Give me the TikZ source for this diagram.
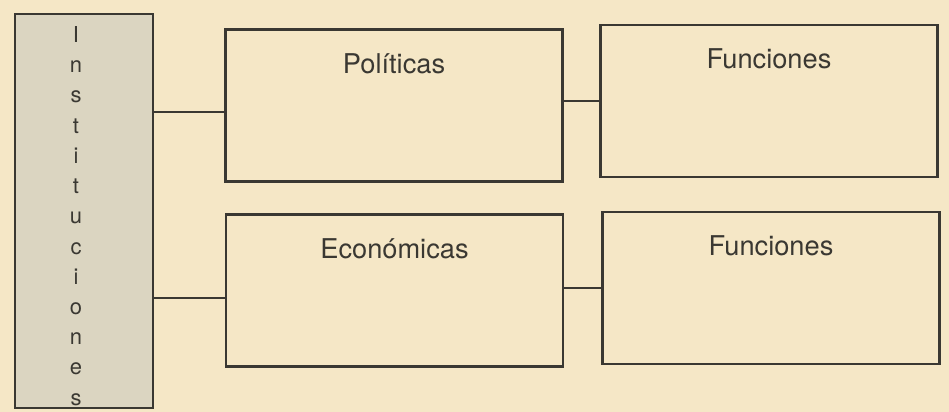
\documentclass[tikz,border=0pt]{standalone}
\usepackage{fontspec}
\setmainfont{TeX Gyre Heros}
\usepackage{tikz}
\definecolor{paper}{RGB}{245,231,198}
\definecolor{slate}{RGB}{219,213,193}
\definecolor{ink}{RGB}{58,56,50}

\begin{document}
\begin{tikzpicture}[x=0.02cm, y=0.02cm]
				\tikzstyle{every node}+=[inner sep=0pt, text=ink]
				\tikzstyle{caja}=[draw=ink, line width=1.3pt, minimum width=6.74cm, minimum height=3.04cm]
				\tikzstyle{titulo}=[font=\fontsize{15.5}{18}\selectfont, anchor=base]
				\tikzstyle{enlace}=[draw=ink, line width=1.3pt]
				\fill [paper] (0,0) rectangle (949,-412);
				\useasboundingbox (0,0) rectangle (949,-412);
				\node [draw=ink, line width=1.3pt, fill=slate, minimum width=2.76cm, minimum height=7.88cm] (inst) at (84,-211) {};
				\node [align=center, font=\fontsize{12.5}{17.2}\selectfont] (instt) at (76,-216) {I\\n\\s\\t\\i\\t\\u\\c\\i\\o\\n\\e\\s};
				\node [caja] (pol) at (394,-105.5) {};
				\node [titulo] (polt) at ([yshift=-0.9cm]pol.north) {Políticas};
				\node [caja] (fun1) at (769,-101) {};
				\node [titulo] (fun1t) at ([yshift=-0.9cm]fun1.north) {Funciones};
				\node [caja] (eco) at (394.5,-290.5) {};
				\node [titulo] (ecot) at ([yshift=-0.9cm]eco.north) {Económicas};
				\node [caja] (fun2) at (771,-288) {};
				\node [titulo] (fun2t) at ([yshift=-0.9cm]fun2.north) {Funciones};
				\draw [enlace] ([yshift=-0.13cm]pol.west) coordinate (p1) -- (p1 -| inst.east);
				\draw [enlace] (fun1.west) -- (fun1.west -| pol.east);
				\draw [enlace] ([yshift=-0.15cm]eco.west) coordinate (e1) -- (e1 -| inst.east);
				\draw [enlace] (fun2.west) -- (fun2.west -| eco.east);
\end{tikzpicture}
\end{document}
